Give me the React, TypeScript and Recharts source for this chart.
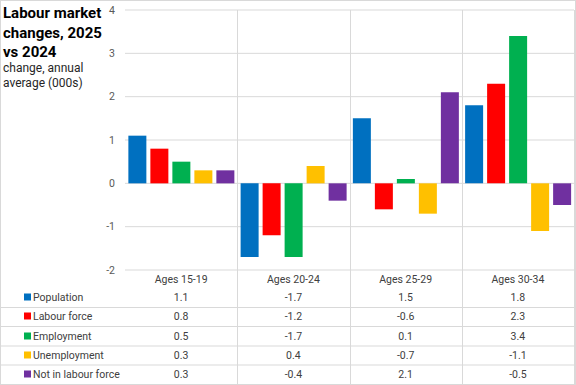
import React from 'react';
import { BarChart, Bar, XAxis, YAxis, CartesianGrid } from 'recharts';

const CATEGORIES = ['Ages 15-19', 'Ages 20-24', 'Ages 25-29', 'Ages 30-34'];
const POPULATION = [1.1, -1.7, 1.5, 1.8];
const LABOUR_FORCE = [0.8, -1.2, -0.6, 2.3];
const EMPLOYMENT = [0.5, -1.7, 0.1, 3.4];
const UNEMPLOYMENT = [0.3, 0.4, -0.7, -1.1];
const NOT_IN_LABOUR_FORCE = [0.3, -0.4, 2.1, -0.5];
const Y_TICKS = [-2, -1, 0, 1, 2, 3, 4];

const SERIES = [
  { key: 'population', name: 'Population', color: '#0070C0', values: POPULATION },
  { key: 'labourForce', name: 'Labour force', color: '#FF0000', values: LABOUR_FORCE },
  { key: 'employment', name: 'Employment', color: '#00B050', values: EMPLOYMENT },
  { key: 'unemployment', name: 'Unemployment', color: '#FFC000', values: UNEMPLOYMENT },
  { key: 'notInLabourForce', name: 'Not in labour force', color: '#7030A0', values: NOT_IN_LABOUR_FORCE },
];

// layout
const W = 576;
const H = 385;
const PLOT_LEFT = 125;
const PLOT_RIGHT = 574;
const PLOT_TOP = 10;
const AXIS_H = 115; // category row + data table
const ROW_Y = [297, 316, 336, 355, 374];
const ROW_LINES = [307.5, 326.5, 346, 365];
const FONT = 'Roboto, "Open Sans", sans-serif';
const GRID = '#d9d9d9';
const TEXT = '#404040';

const data = CATEGORIES.map((cat, i) => {
  const row: any = { category: cat };
  SERIES.forEach(s => { row[s.key] = s.values[i]; });
  return row;
});

// category label plus that category's column of the data table
const TableTick = (props: any) => {
  const { x, y, payload } = props;
  const i = payload.index;
  return (
    <g fontFamily={FONT} fontSize={10.5} fill={TEXT}>
      <text x={x} y={y + 9} textAnchor="middle" dominantBaseline="central">{payload.value}</text>
      {SERIES.map((s, r) => (
        <text key={s.key} x={x} y={ROW_Y[r]} textAnchor="middle" dominantBaseline="central">
          {s.values[i].toFixed(1)}
        </text>
      ))}
    </g>
  );
};

const Overlay = () => {
  const catW = (PLOT_RIGHT - PLOT_LEFT) / CATEGORIES.length;
  const dividers = CATEGORIES.map((_, i) => PLOT_LEFT + (i + 1) * catW);
  return (
    <svg width={W} height={H} style={{ position: 'absolute', left: 0, top: 0, pointerEvents: 'none' }}>
      <rect x={0.5} y={0.5} width={W - 1} height={H - 1} fill="none" stroke={GRID} />
      <g fontFamily={FONT} fill="#000">
        <text x={3} y={18} fontSize={15} fontWeight="bold">Labour market</text>
        <text x={3} y={38} fontSize={15} fontWeight="bold">changes, 2025</text>
        <text x={3} y={57} fontSize={15} fontWeight="bold">vs 2024</text>
        <text x={3} y={72} fontSize={12} fill="#262626">change, annual</text>
        <text x={3} y={87} fontSize={12} fill="#262626">average (000s)</text>
      </g>
      {dividers.map(x => (
        <line key={x} x1={Math.round(x) + 0.5} x2={Math.round(x) + 0.5} y1={PLOT_TOP} y2={H} stroke={GRID} />
      ))}
      {ROW_LINES.map(y => (
        <line key={y} x1={0} x2={PLOT_RIGHT} y1={y} y2={y} stroke={GRID} />
      ))}
      {SERIES.map((s, r) => (
        <g key={s.key}>
          <rect x={24} y={ROW_Y[r] - 3.5} width={7} height={7} fill={s.color} />
          <text x={33} y={ROW_Y[r]} fontFamily={FONT} fontSize={10.5} fill={TEXT} dominantBaseline="central">
            {s.name}
          </text>
        </g>
      ))}
    </svg>
  );
};

export default function App() {
  return (
    <div style={{ position: 'absolute', left: 0, top: 0, width: W, height: H, background: '#fff' }}>
      <BarChart
        width={W}
        height={H}
        data={data}
        margin={{ top: PLOT_TOP, right: W - PLOT_RIGHT, bottom: 0, left: 0 }}
        barCategoryGap="3%"
        barGap={4}
      >
        <CartesianGrid vertical={false} stroke={GRID} />
        <XAxis
          dataKey="category"
          height={AXIS_H}
          axisLine={false}
          tickLine={false}
          tickSize={0}
          tickMargin={0}
          interval={0}
          tick={<TableTick />}
        />
        <YAxis
          width={PLOT_LEFT}
          domain={[-2, 4]}
          ticks={Y_TICKS}
          axisLine={false}
          tickLine={false}
          tickSize={0}
          tickMargin={10}
          tick={{ fill: '#595959', fontSize: 10.5, fontFamily: FONT }}
        />
        {SERIES.map(s => (
          <Bar key={s.key} dataKey={s.key} name={s.name} fill={s.color} isAnimationActive={false} />
        ))}
      </BarChart>
      <Overlay />
    </div>
  );
}
